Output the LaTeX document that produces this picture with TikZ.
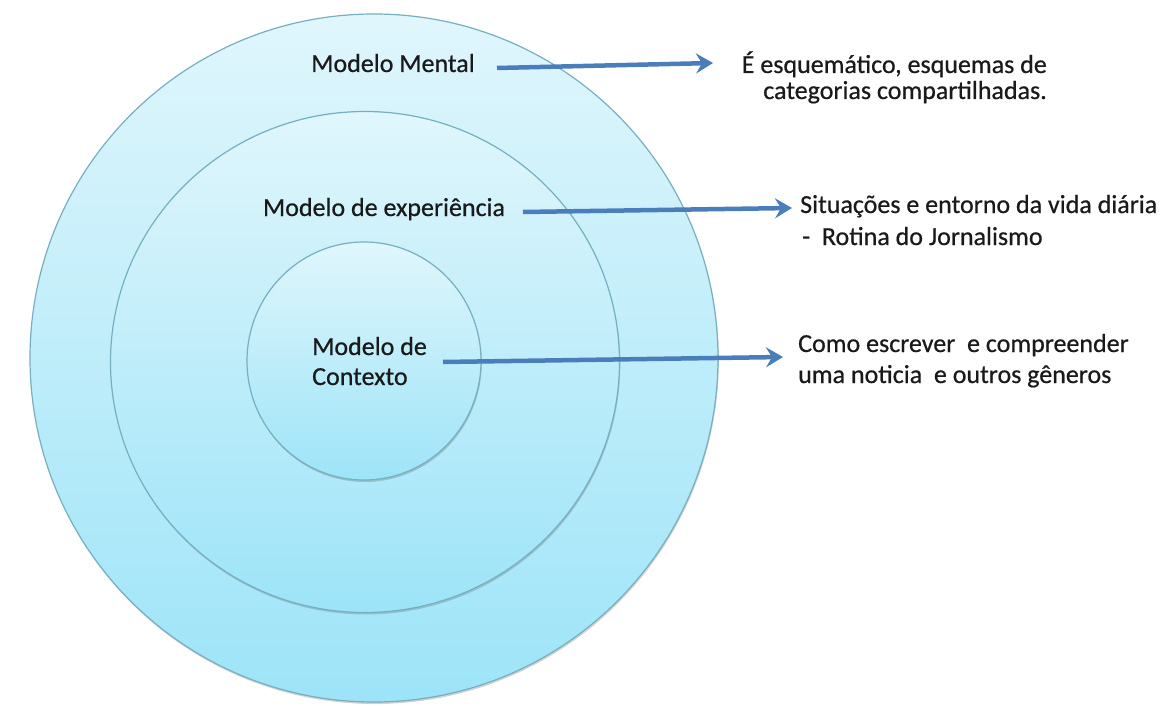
\documentclass[tikz,border=0pt]{standalone}
\usepackage{fontspec}
\setmainfont{Carlito}
\newfontfamily\lblfont{Carlito}[FakeBold=0.6]
\usetikzlibrary{arrows.meta,shapes.geometric,shadows}
\definecolor{ringtop}{HTML}{E0F6FC}
\definecolor{ringbot}{HTML}{9DE4F8}
\definecolor{ringline}{HTML}{76AFC0}
\definecolor{arrowblue}{HTML}{4A7EBB}
\definecolor{txt}{HTML}{1A1A1A}
\tikzset{
  ring/.style={ellipse, draw=ringline, line width=1.2pt, top color=ringtop, bottom color=ringbot,
    inner sep=0pt, drop shadow={opacity=0.3, shadow xshift=0.8pt, shadow yshift=-2pt, fill=black!60}},
  lbl/.style={inner sep=0pt, text=txt, font=\lblfont\fontsize{26}{30}\selectfont},
  conn/.style={draw=arrowblue, line width=4.5pt, -{Stealth[length=17pt,width=20pt,inset=6pt]}},
}
\begin{document}
\begin{tikzpicture}[x=1pt,y=-1pt]
\useasboundingbox (0,0) rectangle (1163,706);
\node[ring, minimum width=688pt, minimum height=688pt] (outer) at (374,358) {};
\node[ring, minimum width=509pt, minimum height=501pt] (middle) at (365,362) {};
\node[ring, minimum width=234pt, minimum height=238pt] (inner) at (364,361) {};

\node[lbl, anchor=base] (mm) at (393,72) {Modelo Mental};
\node[lbl, anchor=base] (me) at (384,216) {Modelo de experiência};
\node[lbl, anchor=base west, align=left] (mc) at (312,385) {Modelo de\\Contexto};

\node[lbl, anchor=base east, align=right, font=\lblfont\fontsize{26}{26}\selectfont] (t1) at (1047,99)
  {É esquemático, esquemas de\\categorias compartilhadas.};
\node[lbl, anchor=base west, align=left, font=\lblfont\fontsize{26}{32}\selectfont] (t2) at (800,245)
  {Situações e entorno da vida diária\\\hspace*{2pt}-\ \ Rotina do Jornalismo};
\node[lbl, anchor=base west, align=left, font=\lblfont\fontsize{26}{31}\selectfont] (t3) at (798,383)
  {Como escrever\ \ e compreender\\uma noticia\ \ e outros gêneros};

\draw[conn] ([shift={(104,-4)}]mm.base) -- ([shift={(-334,-36)}]t1.base east);
\draw[conn] ([shift={(139,-4)}]me.base) -- ([shift={(-8,-37)}]t2.base west);
\draw[conn] ([shift={(131,-23)}]mc.base west) -- ([shift={(-15,-26)}]t3.base west);
\end{tikzpicture}
\end{document}
